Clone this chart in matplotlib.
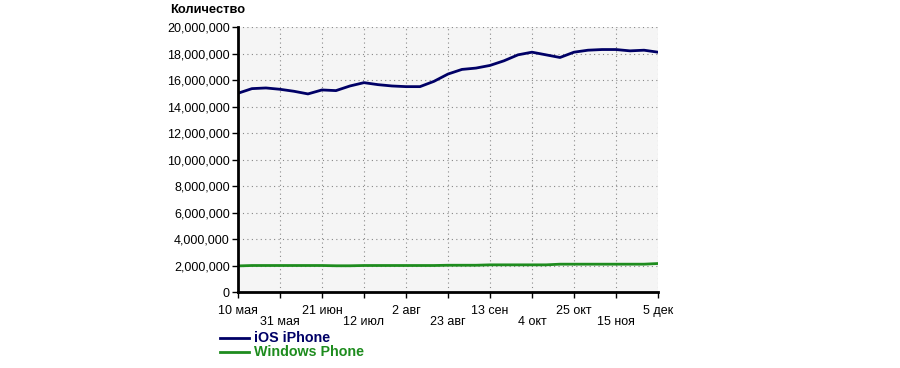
import matplotlib
matplotlib.use('Agg')
import matplotlib.pyplot as plt
import matplotlib.ticker as mticker
import numpy as np

plt.rcParams['font.family'] = ['Liberation Sans', 'DejaVu Sans']

# weekly points, 10 May .. 5 Dec
weeks = np.arange(31)
ios = [15.0, 15.35, 15.4, 15.3, 15.15, 14.95, 15.25, 15.2, 15.55, 15.8,
       15.65, 15.55, 15.5, 15.5, 15.9, 16.45, 16.8, 16.9, 17.1, 17.45,
       17.9, 18.1, 17.9, 17.7, 18.1, 18.25, 18.3, 18.3, 18.2, 18.25, 18.1]
wp = [1.97, 2.0, 2.0, 2.0, 2.0, 2.0, 2.0, 1.98, 1.98, 2.0,
      2.0, 2.0, 2.0, 2.0, 2.0, 2.02, 2.02, 2.02, 2.05, 2.05,
      2.05, 2.05, 2.05, 2.1, 2.1, 2.1, 2.1, 2.1, 2.1, 2.1, 2.15]
ios = [v * 1e6 for v in ios]
wp = [v * 1e6 for v in wp]

tick_labels = ['10 мая', '31 мая', '21 июн', '12 июл', '2 авг', '23 авг',
               '13 сен', '4 окт', '25 окт', '15 ноя', '5 дек']
tick_pos = weeks[::3]

fig = plt.figure(figsize=(9, 3.68), dpi=100)
ax = fig.add_axes([0.2644, 0.2065, 0.4667, 0.7201])
ax.set_facecolor('#f5f5f5')

ax.plot(weeks, ios, color='#000066', lw=2)
ax.plot(weeks, wp, color='#1e8c1e', lw=2)

ax.set_xlim(0, 30)
ax.set_ylim(0, 20e6)
ax.yaxis.set_major_locator(mticker.MultipleLocator(2e6))
ax.yaxis.set_major_formatter(mticker.FuncFormatter(lambda v, p: '{:,.0f}'.format(v)))
ax.set_xticks(tick_pos)
ax.set_xticklabels([t if i % 2 == 0 else '\n' + t for i, t in enumerate(tick_labels)],
                   linespacing=0.92)

ax.grid(True, color='#888888', linestyle=(0, (1, 3)), lw=0.8)
for s in ['top', 'right']:
    ax.spines[s].set_visible(False)
for s in ['left', 'bottom']:
    ax.spines[s].set_linewidth(2)
ax.tick_params(labelsize=9, length=4, width=1, colors='black')
ax.tick_params(axis='x', pad=5)
ax.tick_params(axis='y', pad=2)

fig.text(0.189, 0.972, 'Количество', fontsize=9.3, fontweight='bold', va='center')

# legend under the axis
fig.add_artist(plt.Line2D([0.2444, 0.2767], [0.082, 0.082], color='#000066', lw=2))
fig.add_artist(plt.Line2D([0.2444, 0.2767], [0.044, 0.044], color='#1e8c1e', lw=2))
fig.text(0.2822, 0.082, 'iOS iPhone', fontsize=10.3, fontweight='bold', color='#000066', va='center')
fig.text(0.2822, 0.044, 'Windows Phone', fontsize=10.3, fontweight='bold', color='#1e8c1e', va='center')

fig.savefig('out.png', dpi=100)
